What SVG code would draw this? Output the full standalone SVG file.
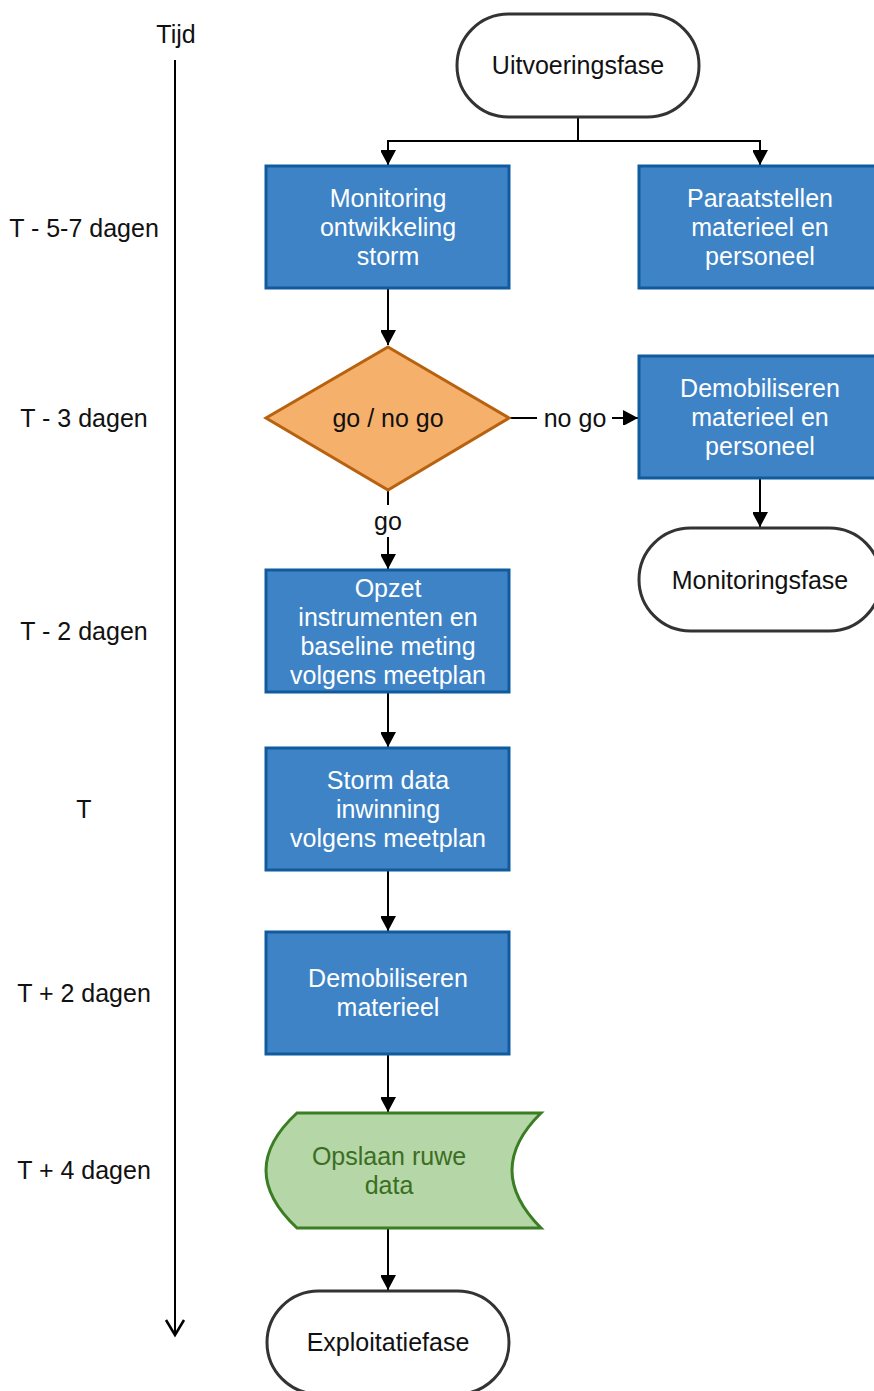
<svg xmlns="http://www.w3.org/2000/svg" width="874" height="1391" viewBox="0 0 874 1391">
<defs>
<marker id="ah" markerWidth="16" markerHeight="15" refX="15" refY="8" orient="auto" markerUnits="userSpaceOnUse">
<path d="M0,0 L15,8 L0,16 Z" fill="#000"/>
</marker>
<style>
text{font-family:"Liberation Sans",Arial,sans-serif;font-size:25px;text-anchor:middle}
.box{fill:#3e83c6;stroke:#105a9e;stroke-width:3}
.wt{fill:#ffffff}
.pill{fill:#ffffff;stroke:#333333;stroke-width:3}
.bt{fill:#111111}
.ln{stroke:#000;stroke-width:2;fill:none}
</style>
</defs>
<rect width="874" height="1391" fill="#ffffff"/>

<g id="timeline">
<text class="bt" x="176" y="43">Tijd</text>
<line class="ln" x1="175" y1="60" x2="175" y2="1334"/>
<path d="M166,1320 L175,1335 L184,1320" fill="none" stroke="#000" stroke-width="2.5"/>
<text class="bt" x="84" y="237">T - 5-7 dagen</text>
<text class="bt" x="84" y="427">T - 3 dagen</text>
<text class="bt" x="84" y="640">T - 2 dagen</text>
<text class="bt" x="84" y="818">T</text>
<text class="bt" x="84" y="1002">T + 2 dagen</text>
<text class="bt" x="84" y="1179">T + 4 dagen</text>
</g>

<g id="connectors">
<path class="ln" d="M578,117 L578,141 L388,141 L388,165" marker-end="url(#ah)"/>
<path class="ln" d="M578,141 L760,141 L760,165" marker-end="url(#ah)"/>
<path class="ln" d="M388,289 L388,345" marker-end="url(#ah)"/>
<path class="ln" d="M509,418 L537,418"/>
<path class="ln" d="M612,418 L638,418" marker-end="url(#ah)"/>
<text class="bt" x="575" y="427">no go</text>
<path class="ln" d="M388,491 L388,505"/>
<path class="ln" d="M388,537 L388,569" marker-end="url(#ah)"/>
<text class="bt" x="388" y="530">go</text>
<path class="ln" d="M760,479 L760,527" marker-end="url(#ah)"/>
<path class="ln" d="M388,693 L388,747" marker-end="url(#ah)"/>
<path class="ln" d="M388,871 L388,931" marker-end="url(#ah)"/>
<path class="ln" d="M388,1055 L388,1112" marker-end="url(#ah)"/>
<path class="ln" d="M388,1229 L388,1290" marker-end="url(#ah)"/>
</g>

<g id="uitvoeringsfase">
<rect class="pill" x="457" y="14" width="242" height="103" rx="51.5"/>
<text class="bt" x="578" y="74">Uitvoeringsfase</text>
</g>

<g id="monitoring">
<rect class="box" x="266" y="166" width="243" height="122"/>
<text class="wt" x="388" y="207">Monitoring</text>
<text class="wt" x="388" y="236">ontwikkeling</text>
<text class="wt" x="388" y="265">storm</text>
</g>

<g id="paraatstellen">
<rect class="box" x="639" y="166" width="243" height="122"/>
<text class="wt" x="760" y="207">Paraatstellen</text>
<text class="wt" x="760" y="236">materieel en</text>
<text class="wt" x="760" y="265">personeel</text>
</g>

<g id="gonogo">
<path d="M388,347 L509,418 L388,490 L266,418 Z" fill="#f5b06b" stroke="#b8620f" stroke-width="3"/>
<text class="bt" x="388" y="427">go / no go</text>
</g>

<g id="demob1">
<rect class="box" x="639" y="356" width="243" height="122"/>
<text class="wt" x="760" y="397">Demobiliseren</text>
<text class="wt" x="760" y="426">materieel en</text>
<text class="wt" x="760" y="455">personeel</text>
</g>

<g id="monitoringsfase">
<rect class="pill" x="639" y="528" width="242" height="103" rx="51.5"/>
<text class="bt" x="760" y="589">Monitoringsfase</text>
</g>

<g id="opzet">
<rect class="box" x="266" y="570" width="243" height="122"/>
<text class="wt" x="388" y="597">Opzet</text>
<text class="wt" x="388" y="626">instrumenten en</text>
<text class="wt" x="388" y="655">baseline meting</text>
<text class="wt" x="388" y="684">volgens meetplan</text>
</g>

<g id="stormdata">
<rect class="box" x="266" y="748" width="243" height="122"/>
<text class="wt" x="388" y="789">Storm data</text>
<text class="wt" x="388" y="818">inwinning</text>
<text class="wt" x="388" y="847">volgens meetplan</text>
</g>

<g id="demob2">
<rect class="box" x="266" y="932" width="243" height="122"/>
<text class="wt" x="388" y="987">Demobiliseren</text>
<text class="wt" x="388" y="1016">materieel</text>
</g>

<g id="opslaan">
<path d="M297,1113 L541,1113 Q483,1170 541,1228 L297,1228 Q235,1170 297,1113 Z" fill="#b5d6a7" stroke="#3b7d23" stroke-width="3"/>
<text x="389" y="1165" fill="#3b6e22">Opslaan ruwe</text>
<text x="389" y="1194" fill="#3b6e22">data</text>
</g>

<g id="exploitatiefase">
<rect class="pill" x="267" y="1291" width="242" height="103" rx="51.5"/>
<text class="bt" x="388" y="1351">Exploitatiefase</text>
</g>
</svg>
